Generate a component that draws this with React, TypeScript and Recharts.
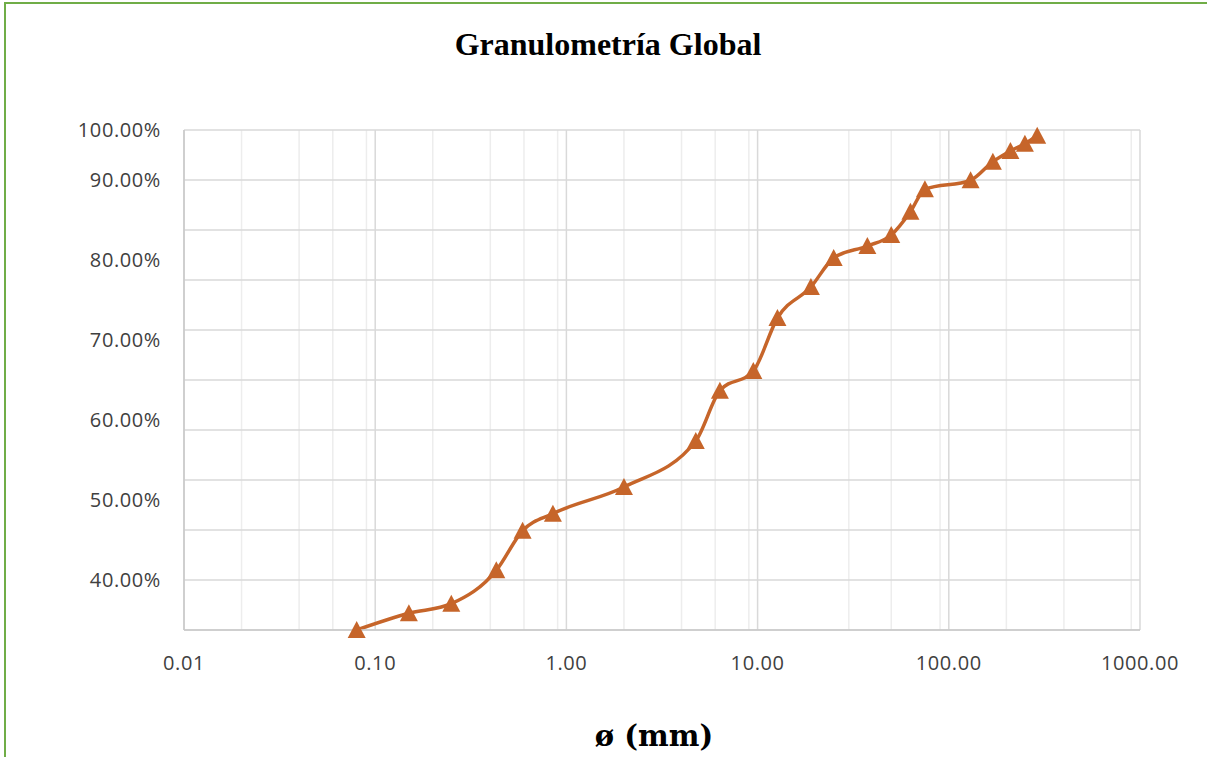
import { CartesianGrid, Line, LineChart, XAxis, YAxis } from 'recharts';

// particle size (mm) and % passing
const sizes = [
  0.08, 0.15, 0.25, 0.43, 0.59, 0.85, 2.0, 4.75, 6.35, 9.5, 12.7, 19, 25, 37.5, 50, 63, 75, 130,
  170, 210, 250, 290,
];
const passing = [
  33.75, 35.84, 37.04, 41.21, 46.16, 48.29, 51.63, 57.38, 63.66, 66.13, 72.75, 76.63, 80.25,
  81.75, 83.13, 86.04, 88.84, 89.96, 92.29, 93.63, 94.54, 95.54,
];

const xTicks = [0.01, 0.1, 1, 10, 100, 1000];
const xMinor = [0.01, 0.1, 1, 10, 100].flatMap((d) => [2, 3, 4, 5, 6, 7, 8, 9].map((k) => d * k));
const yTicks = [40, 50, 60, 70, 80, 90, 96.25];
const yGrid = [33.75, 40, 46.25, 52.5, 58.75, 65, 71.25, 77.5, 83.75, 90, 96.25];

const data = sizes.map((size, i) => ({ size, pct: passing[i] }));

const COLOR = '#C6652A';
const tickStyle = {
  fontFamily: '"Open Sans", sans-serif',
  fontSize: 20,
  letterSpacing: 0.6,
  fill: '#404040',
};

function Triangle(props: any) {
  const { cx, cy, index } = props;
  if (cx == null || cy == null) return null;
  return (
    <path
      key={`tri-${index}`}
      d={`M${cx},${cy - 9} L${cx + 9},${cy + 8} L${cx - 9},${cy + 8} Z`}
      fill={COLOR}
    />
  );
}

export default function App() {
  return (
    <div
      style={{
        position: 'absolute',
        left: 0,
        top: 0,
        width: 1207,
        height: 757,
        overflow: 'hidden',
        background: '#fff',
      }}
    >
      <div
        style={{
          position: 'absolute',
          left: 4,
          top: 2,
          width: 1220,
          height: 780,
          borderTop: '2px solid #70AD47',
          borderLeft: '2px solid #70AD47',
        }}
      />
      <div
        style={{
          position: 'absolute',
          left: 0,
          width: 1216,
          top: 28,
          textAlign: 'center',
          fontFamily: '"Liberation Serif", serif',
          fontWeight: 'bold',
          fontSize: 32,
          lineHeight: '32px',
        }}
      >
        Granulometría Global
      </div>
      <div
        style={{
          position: 'absolute',
          left: 0,
          width: 1308,
          top: 722,
          textAlign: 'center',
          fontFamily: '"DejaVu Serif", serif',
          fontWeight: 'bold',
          fontSize: 29,
          lineHeight: '29px',
        }}
      >
        ø (mm)
      </div>
      <div style={{ position: 'absolute', left: 0, top: 0 }}>
        <LineChart
          width={1207}
          height={757}
          data={data}
          margin={{ top: 130, right: 67, bottom: 87, left: 0 }}
        >
          <CartesianGrid
            horizontal={false}
            verticalValues={xMinor}
            stroke="#EDEDED"
            strokeWidth={1.5}
          />
          <CartesianGrid
            horizontalValues={yGrid}
            verticalValues={xTicks}
            stroke="#D9D9D9"
            strokeWidth={1.5}
          />
          <XAxis
            dataKey="size"
            type="number"
            scale="log"
            domain={[0.01, 1000]}
            ticks={xTicks}
            tickFormatter={(v: number) => v.toFixed(2)}
            tick={tickStyle}
            tickLine={false}
            tickSize={6}
            tickMargin={20}
            axisLine={{ stroke: '#C8C8C8', strokeWidth: 1.5 }}
            height={40}
          />
          <YAxis
            type="number"
            domain={[33.75, 96.25]}
            ticks={yTicks}
            tickFormatter={(v: number) => (v > 95 ? '100.00%' : `${v.toFixed(2)}%`)}
            tick={tickStyle}
            tickLine={false}
            tickSize={6}
            tickMargin={17}
            axisLine={{ stroke: '#C8C8C8', strokeWidth: 1.5 }}
            width={184}
          />
          <Line
            dataKey="pct"
            type="monotone"
            stroke={COLOR}
            strokeWidth={3.5}
            dot={Triangle}
            activeDot={false}
            isAnimationActive={false}
          />
        </LineChart>
      </div>
    </div>
  );
}
